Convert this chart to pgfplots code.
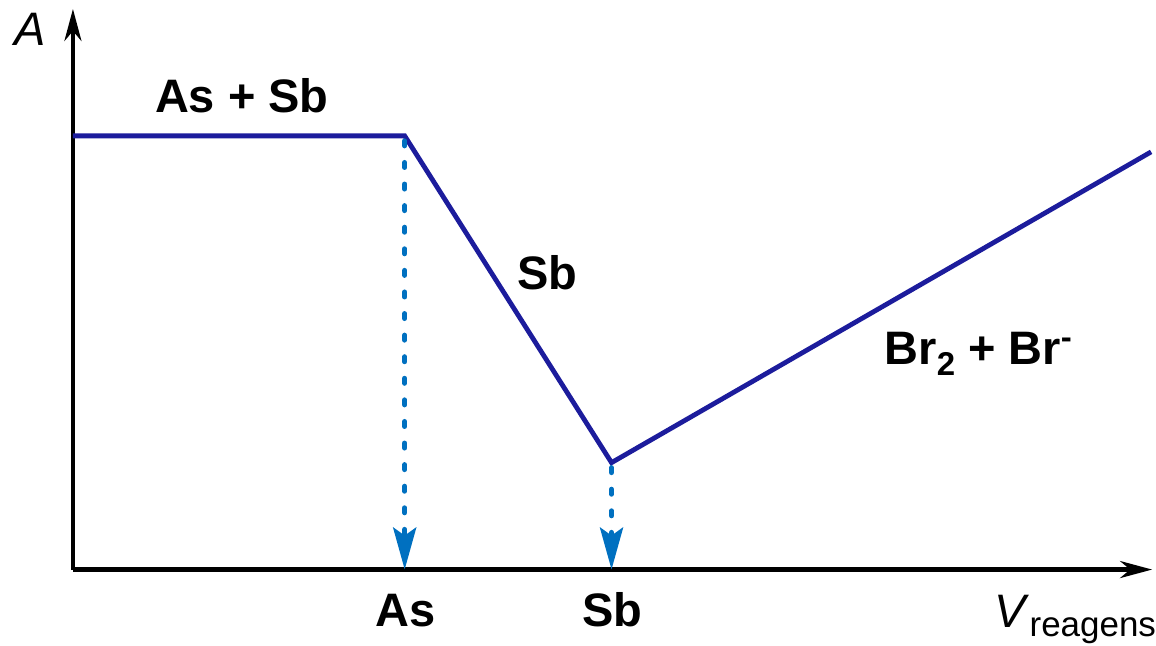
\documentclass[border=0pt]{standalone}
\usepackage{pgfplots}
\pgfplotsset{compat=1.18}
\usepackage{fontspec}
\setmainfont{Liberation Sans}
\usetikzlibrary{arrows.meta}
\definecolor{lineblue}{HTML}{1C1C9C}
\definecolor{dotblue}{HTML}{0070C0}
\begin{document}
\begin{tikzpicture}
\begin{axis}[
  x=0.5pt, y=0.5pt,
  xmin=73, xmax=1153, ymin=76, ymax=637,
  axis lines*=left,
  axis line style={line width=2.1pt, -{Stealth[length=16pt,width=8.5pt,inset=5pt]}},
  xtick=\empty, ytick=\empty,
  clip=false,
]
\path (axis cs:0,0) rectangle (axis cs:1156,646);
\addplot[lineblue, line width=2.4pt, line join=miter] coordinates {(73,510) (405,510) (612,183) (1152,494)};
\addplot[dotblue, line width=2.5pt, line cap=round, dash pattern=on 2.5pt off 8.3pt, -{Stealth[length=21pt,width=11.5pt,inset=4pt]}] coordinates {(405,505) (405,76)};
\addplot[dotblue, line width=2.5pt, line cap=round, dash pattern=on 2.5pt off 8.3pt, -{Stealth[length=21pt,width=11.5pt,inset=4pt]}] coordinates {(612,178) (612,76)};
\node[font=\fontsize{23.5}{27}\selectfont\itshape] at (axis cs:30,617) {A};
\node[font=\fontsize{23.5}{27}\selectfont\bfseries, anchor=base] at (axis cs:242,533) {As + Sb};
\node[font=\fontsize{23.5}{27}\selectfont\bfseries, anchor=base] at (axis cs:548,356) {Sb};
\node[font=\fontsize{23.5}{27}\selectfont\bfseries, anchor=base west, inner sep=0pt] at (axis cs:885,281) {Br\raisebox{-5.5pt}{\fontsize{16.5}{20}\selectfont 2} + Br\raisebox{8pt}{\fontsize{16.5}{20}\selectfont -}};
\node[font=\fontsize{23.5}{27}\selectfont\bfseries, anchor=base] at (axis cs:406,19) {As};
\node[font=\fontsize{23.5}{27}\selectfont\bfseries, anchor=base] at (axis cs:613,19) {Sb};
\node[font=\fontsize{23.5}{27}\selectfont, anchor=base west, inner sep=0pt] at (axis cs:995,18) {\textit{V}\raisebox{-4.5pt}{\fontsize{17.5}{20}\selectfont reagens}};
\end{axis}
\end{tikzpicture}
\end{document}
